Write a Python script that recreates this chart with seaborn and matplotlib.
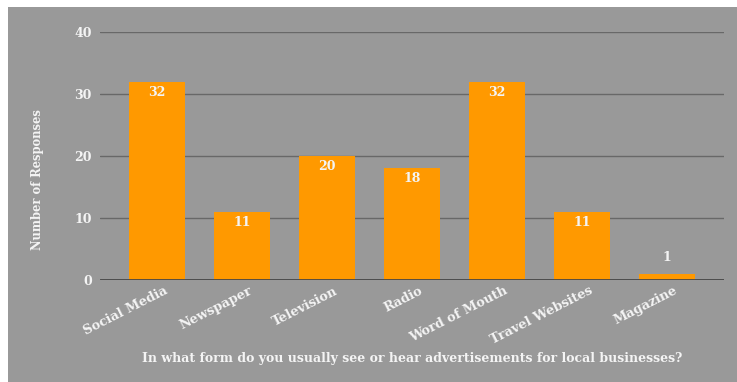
import matplotlib
matplotlib.use("Agg")
import matplotlib.pyplot as plt
import matplotlib.patches as mpatches
import matplotlib.transforms as mtransforms
import seaborn as sns
import pandas as pd

categories = ["Social Media", "Newspaper", "Television", "Radio",
              "Word of Mouth", "Travel Websites", "Magazine"]
values = [32, 11, 20, 18, 32, 11, 1]
y_ticks = [0, 10, 20, 30, 40]
x_title = "In what form do you usually see or hear advertisements for local businesses?"
y_title = "Number of Responses"

BG = "#999999"
BAR = "#ff9900"
TXT = "#f4f4f4"

sns.set_style("white")
plt.rcParams["font.family"] = ["DejaVu Serif"]
plt.rcParams["font.weight"] = "bold"

fig = plt.figure(figsize=(7.37, 3.82), dpi=100)
fig.patch.set_facecolor("white")
fig.patches.append(mpatches.Rectangle((8 / 737, 0), 1 - 8 / 737, 1 - 7 / 382,
                                      transform=fig.transFigure, facecolor=BG,
                                      edgecolor="none", zorder=-10))

ax = fig.add_axes([100 / 737, 1 - 280 / 382, (724 - 100) / 737, (280 - 32) / 382])
ax.set_facecolor("none")
ax.set_axisbelow(True)

df = pd.DataFrame({"cat": categories, "val": values})
sns.barplot(data=df, x="cat", y="val", color=BAR, saturation=1, width=0.65,
            linewidth=0, edgecolor="none", ax=ax, zorder=3)

ax.set_xlim(-0.67, len(categories) - 1 + 0.67)
ax.set_ylim(0, 40)
ax.set_yticks(y_ticks)
ax.set_yticklabels([str(t) for t in y_ticks], fontsize=9, color=TXT, fontweight="bold")
ax.tick_params(axis="y", length=0, pad=6)
ax.tick_params(axis="x", length=0, pad=3)
for s in ax.spines.values():
    s.set_visible(False)
ax.grid(axis="y", color="#686868", linewidth=1, zorder=1)
ax.grid(axis="x", visible=False)
ax.axhline(0, color="#474747", linewidth=2, zorder=4)

offset = mtransforms.ScaledTranslation(5 / 72, 0, fig.dpi_scale_trans)
ax.set_xticks(range(len(categories)))
ax.set_xticklabels(categories, rotation=27, ha="right", va="top",
                   rotation_mode="anchor", fontsize=9.3, color=TXT, fontweight="bold")
for lab in ax.get_xticklabels():
    lab.set_transform(lab.get_transform() + offset)

ax.set_xlabel(x_title, fontsize=9, color=TXT, fontweight="bold")
ax.set_ylabel(y_title, fontsize=8.3, color=TXT, fontweight="bold")
ax.xaxis.set_label_coords(0.5, -0.29)
ax.yaxis.set_label_coords(-0.09, 0.403)

for i, v in enumerate(values):
    if v >= 5:
        ax.annotate(str(v), (i, v), xytext=(0, -7.5), textcoords="offset points",
                    ha="center", va="center", fontsize=9, color=TXT,
                    fontweight="bold", zorder=5)
    else:
        ax.annotate(str(v), (i, v), xytext=(0, 12), textcoords="offset points",
                    ha="center", va="center", fontsize=9, color=TXT,
                    fontweight="bold", zorder=5)

fig.savefig("out.png", dpi=100, facecolor="white")
